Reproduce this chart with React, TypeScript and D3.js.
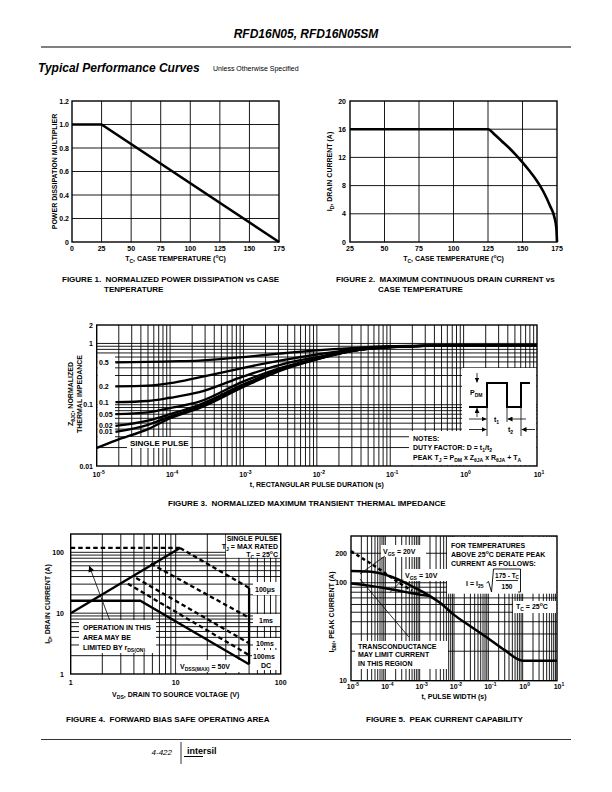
import React from 'react';
import * as d3 from 'd3';

const FONT = "'Liberation Sans', Arial, Helvetica, sans-serif";

/* ---------- Figure 1 : power dissipation multiplier ---------- */
const fig1Temp = [0, 25, 175];
const fig1Mult = [1.0, 1.0, 0.0];
const fig1XTicks = [0, 25, 50, 75, 100, 125, 150, 175];
const fig1YTicks = [0, 0.2, 0.4, 0.6, 0.8, 1.0, 1.2];
const fig1YLabels = ['0', '0.2', '0.4', '0.6', '0.8', '1.0', '1.2'];

/* ---------- Figure 2 : drain current vs case temperature ---------- */
const fig2Temp = [25, 125, 130, 135, 140, 145, 150, 155, 160, 165, 170, 173, 174.5, 175];
const fig2Current = [16, 16, 15.2, 14.3, 13.4, 12.4, 11.3, 10.1, 8.8, 7.2, 5.1, 3.6, 2.0, 0];
const fig2XTicks = [25, 50, 75, 100, 125, 150, 175];
const fig2YTicks = [0, 4, 8, 12, 16, 20];

/* ---------- Figure 3 : transient thermal impedance ---------- */
const fig3Time = [1e-5, 1.8e-5, 5e-5, 1e-4, 2.5e-4, 1e-3, 3e-3, 1e-2, 3e-2, 1e-1, 1, 10];
const fig3D05 = [null, 0.49, 0.5, 0.51, 0.525, 0.6, 0.68, 0.77, 0.84, 0.9, 0.93, 0.94];
const fig3D02 = [null, 0.2, 0.205, 0.225, 0.28, 0.4, 0.52, 0.66, 0.79, 0.89, 0.93, 0.94];
const fig3D01 = [null, 0.11, 0.115, 0.13, 0.16, 0.29, 0.44, 0.6, 0.77, 0.88, 0.93, 0.94];
const fig3D005 = [null, 0.07, 0.075, 0.088, 0.112, 0.24, 0.39, 0.57, 0.76, 0.875, 0.93, 0.94];
const fig3D002 = [null, 0.045, 0.055, 0.07, 0.1, 0.215, 0.37, 0.56, 0.755, 0.87, 0.93, 0.94];
const fig3D001 = [null, 0.036, 0.047, 0.064, 0.093, 0.205, 0.36, 0.555, 0.75, 0.87, 0.93, 0.94];
const fig3Single = [0.0197, 0.026, 0.04, 0.06, 0.088, 0.195, 0.35, 0.55, 0.75, 0.87, 0.93, 0.94];
const fig3DutyLabels = ['0.5', '0.2', '0.1', '0.05', '0.02', '0.01'];
const fig3XExp = [-5, -4, -3, -2, -1, 0, 1];
const fig3YTicks = [0.01, 0.1, 1, 2];
const fig3YLabels = ['0.01', '0.1', '1', '2'];

/* ---------- Figure 4 : forward bias SOA ---------- */
const soaRdsV = [1, 11];
const soaRdsI = [10, 118];
const soaLimitV = [1, 11];
const soaLimitI = [118, 118];
const soa100usV = [11, 50];
const soa100usI = [118, 26];
const soa1msV = [5.8, 50];
const soa1msI = [65, 8.4];
const soa10msV = [4.2, 50];
const soa10msI = [38, 3.2];
const soa100msV = [3.5, 50];
const soa100msI = [30.5, 2.05];
const soaDcV = [1, 4.6, 50];
const soaDcI = [16, 16, 1.45];
const soaVdssV = [50, 50];
const soaVdssI = [26, 1.45];
const fig4XTicks = [1, 10, 100];
const fig4YTicks = [1, 10, 100];

/* ---------- Figure 5 : peak current capability ---------- */
const pc20Time = [1e-5, 3e-5, 7e-5, 1.5e-4, 3e-4, 6e-4, 1.2e-3, 2e-3, 4e-3, 1e-2, 3e-2, 1e-1, 3e-1, 1, 10];
const pc20Current = [132, 130, 125, 115, 104, 92, 81, 73, 62, 47, 36, 27, 20.5, 16, 16];
const pc10Time = [1e-5, 3e-5, 1e-4, 3e-4, 6e-4, 1.2e-3, 2e-3];
const pc10Current = [98, 94, 88, 82, 78, 75, 73];
const pcDashTime = [1e-5, 2e-5, 4e-5, 7e-5, 1.5e-4, 3e-4, 6e-4];
const pcDashCurrent = [210, 180, 155, 136, 113, 96, 83];
const fig5XExp = [-5, -4, -3, -2, -1, 0, 1];
const fig5YTicks = [10, 100, 200];

/* ---------- helpers ---------- */
const logGrid = (lo: number, hi: number) => {
  const out: number[] = [];
  for (let d = Math.floor(Math.log10(lo)); d <= Math.ceil(Math.log10(hi)); d++) {
    for (let k = 1; k <= 9; k++) {
      const v = k * Math.pow(10, d);
      if (v > lo * 1.0001 && v < hi * 0.9999) out.push(v);
    }
  }
  return out;
};

const rich = (parts: any[], size: number) => {
  let cur = 0;
  return parts.map((p: any, i: number) => {
    const [t, k] = Array.isArray(p) ? p : [p, undefined];
    const target = k === 's' ? size * 0.3 : k === 'p' ? -size * 0.42 : 0;
    const dy = target - cur;
    cur = target;
    return (
      <tspan key={i} dy={dy} fontSize={k ? size * 0.72 : size}>
        {t}
      </tspan>
    );
  });
};

const Txt = ({ x, y, size = 7, anchor = 'start', rot = 0, weight = 'bold', italic = false, len, children }: any) => (
  <text
    transform={`translate(${x},${y})${rot ? ` rotate(${rot})` : ''}`}
    fontSize={size}
    textAnchor={anchor}
    fontWeight={weight}
    fontStyle={italic ? 'italic' : 'normal'}
    fontFamily={FONT}
    fill="#000"
    {...(len ? { textLength: len, lengthAdjust: 'spacingAndGlyphs' } : {})}
  >
    {children}
  </text>
);

const Grid = ({ x, y, xg, yg }: any) => {
  const [x0, x1] = x.range();
  const [yb, yt] = y.range();
  return (
    <g stroke="#000" strokeWidth={0.9}>
      {xg.map((v: number, i: number) => (
        <line key={'gx' + i} x1={x(v)} x2={x(v)} y1={yt} y2={yb} />
      ))}
      {yg.map((v: number, i: number) => (
        <line key={'gy' + i} x1={x0} x2={x1} y1={y(v)} y2={y(v)} />
      ))}
    </g>
  );
};

const Border = ({ x, y }: any) => {
  const [x0, x1] = x.range();
  const [yb, yt] = y.range();
  return <rect x={x0} y={yt} width={x1 - x0} height={yb - yt} fill="none" stroke="#000" strokeWidth={1.4} />;
};

const Box = ({ x, y, w, h }: any) => <rect x={x} y={y} width={w} height={h} fill="#fff" />;

const pathOf = (xs: number[], ys: (number | null)[], x: any, y: any, curve: any = d3.curveLinear) => {
  const pts = xs.map((v, i) => [v, ys[i]] as [number, number | null]);
  return (
    d3
      .line<[number, number | null]>()
      .defined((d) => d[1] != null)
      .x((d) => x(d[0]))
      .y((d) => y(d[1] as number))
      .curve(curve)(pts) || ''
  );
};

export default function App() {
  /* scales */
  const x1s = d3.scaleLinear([0, 175], [72, 279]);
  const y1s = d3.scaleLinear([0, 1.2], [242, 101]);
  const x2s = d3.scaleLinear([25, 175], [350, 557]);
  const y2s = d3.scaleLinear([0, 20], [242, 101]);
  const x3s = d3.scaleLog([1e-5, 10], [96.7, 537]);
  const y3s = d3.scaleLog([0.01, 2], [466, 325]);
  const x4s = d3.scaleLog([1, 100], [70.7, 280.7]);
  const y4s = d3.scaleLog([1, 200], [674, 534]);
  const x5s = d3.scaleLog([1e-5, 10], [351, 557]);
  const y5s = d3.scaleLog([10, 300], [680.7, 536]);

  const fig3Series = [fig3D05, fig3D02, fig3D01, fig3D005, fig3D002, fig3D001];

  return (
    <svg width={612} height={792} style={{ position: 'absolute', left: 0, top: 0, background: '#fff' }}>
      <defs>
        <marker id="ah" viewBox="0 0 10 10" refX="10" refY="5" markerWidth="5" markerHeight="5" markerUnits="userSpaceOnUse" orient="auto">
          <path d="M0,0 L10,5 L0,10 z" fill="#000" />
        </marker>
        <marker id="ahBig" viewBox="0 0 10 10" refX="10" refY="5" markerWidth="7" markerHeight="6" markerUnits="userSpaceOnUse" orient="auto">
          <path d="M0,0 L10,5 L0,10 z" fill="#000" />
        </marker>
      </defs>
      <rect x={0} y={0} width={612} height={792} fill="#fff" />

      {/* ---------- header ---------- */}
      <Txt x={306} y={37.5} size={12} anchor="middle" italic>
        RFD16N05, RFD16N05SM
      </Txt>
      <line x1={41} x2={571} y1={47} y2={47} stroke="#000" strokeWidth={1} />
      <Txt x={38} y={72} size={12} italic>
        Typical Performance Curves
      </Txt>
      <Txt x={213} y={71} size={7} weight="normal">
        Unless Otherwise Specified
      </Txt>

      {/* ---------- Figure 1 ---------- */}
      <Grid x={x1s} y={y1s} xg={fig1XTicks.slice(1, -1)} yg={fig1YTicks.slice(1, -1)} />
      <Border x={x1s} y={y1s} />
      <path d={pathOf(fig1Temp, fig1Mult, x1s, y1s)} fill="none" stroke="#000" strokeWidth={2.6} />
      {fig1YTicks.map((v, i) => (
        <Txt key={i} x={69} y={y1s(v) + 2.5} anchor="end">
          {fig1YLabels[i]}
        </Txt>
      ))}
      {fig1XTicks.map((v, i) => (
        <Txt key={i} x={x1s(v)} y={251} anchor="middle">
          {String(v)}
        </Txt>
      ))}
      <Txt x={175.5} y={261} anchor="middle">
        {rich(['T', ['C', 's'], ', CASE TEMPERATURE (', ['o', 'p'], 'C)'], 7)}
      </Txt>
      <Txt x={56.5} y={171.5} anchor="middle" rot={-90}>
        POWER DISSIPATION MULTIPLIER
      </Txt>
      <Txt x={62} y={282} size={8}>
        FIGURE 1.{'\u00A0\u00A0'}NORMALIZED POWER DISSIPATION vs CASE
      </Txt>
      <Txt x={104} y={292} size={8}>
        TENPERATURE
      </Txt>

      {/* ---------- Figure 2 ---------- */}
      <Grid x={x2s} y={y2s} xg={fig2XTicks.slice(1, -1)} yg={fig2YTicks.slice(1, -1)} />
      <Border x={x2s} y={y2s} />
      <path d={pathOf(fig2Temp, fig2Current, x2s, y2s, d3.curveMonotoneX)} fill="none" stroke="#000" strokeWidth={2.6} />
      {fig2YTicks.map((v, i) => (
        <Txt key={i} x={346} y={y2s(v) + 2.5} anchor="end">
          {String(v)}
        </Txt>
      ))}
      {fig2XTicks.map((v, i) => (
        <Txt key={i} x={x2s(v)} y={251} anchor="middle">
          {String(v)}
        </Txt>
      ))}
      <Txt x={453.5} y={261} anchor="middle">
        {rich(['T', ['C', 's'], ', CASE TEMPERATURE (', ['o', 'p'], 'C)'], 7)}
      </Txt>
      <Txt x={331.5} y={171.5} anchor="middle" rot={-90}>
        {rich(['I', ['D', 's'], ', DRAIN CURRENT (A)'], 7)}
      </Txt>
      <Txt x={336} y={282} size={8}>
        FIGURE 2.{'\u00A0\u00A0'}MAXIMUM CONTINUOUS DRAIN CURRENT vs
      </Txt>
      <Txt x={378} y={292} size={8}>
        CASE TEMPERATURE
      </Txt>

      {/* ---------- Figure 3 ---------- */}
      <Grid x={x3s} y={y3s} xg={logGrid(1e-5, 10)} yg={logGrid(0.01, 2)} />
      <Box x={97.4} y={355} w={17.6} h={85} />
      <Box x={127} y={437} w={63} h={11} />
      <Box x={462} y={368} w={74.3} h={63} />
      <Box x={409} y={431} w={127.3} h={34.3} />
      <Border x={x3s} y={y3s} />
      {fig3Series.map((s, i) => (
        <path key={i} d={pathOf(fig3Time, s, x3s, y3s, d3.curveMonotoneX)} fill="none" stroke="#000" strokeWidth={2.3} />
      ))}
      <path d={pathOf(fig3Time, fig3Single, x3s, y3s, d3.curveMonotoneX)} fill="none" stroke="#000" strokeWidth={2.3} />
      {fig3Series.map((s, i) => (
        <Txt key={i} x={99} y={y3s(s[1] as number) + 2.5}>
          {fig3DutyLabels[i]}
        </Txt>
      ))}
      <Txt x={130} y={446} size={8}>
        SINGLE PULSE
      </Txt>
      {fig3YTicks.map((v, i) => (
        <Txt key={i} x={93} y={y3s(v) + 2.5} anchor="end">
          {fig3YLabels[i]}
        </Txt>
      ))}
      {fig3XExp.map((e, i) => (
        <Txt key={i} x={x3s(Math.pow(10, e)) + 2} y={477} anchor="middle">
          {rich(['10', [String(e), 'p']], 7)}
        </Txt>
      ))}
      <Txt x={316.8} y={487} anchor="middle">
        t, RECTANGULAR PULSE DURATION (s)
      </Txt>
      <Txt x={73.2} y={394} anchor="middle" rot={-90}>
        {rich(['Z', ['θJC', 's'], ', NORMALIZED'], 7)}
      </Txt>
      <Txt x={81.8} y={394} anchor="middle" rot={-90}>
        THERMAL IMPEDANCE
      </Txt>
      {/* pulse diagram */}
      <path d="M469,407 H487 V383 H507 V407 H521 V383 H530" fill="none" stroke="#000" strokeWidth={2} />
      <g stroke="#000" strokeWidth={0.8}>
        <line x1={477} x2={477} y1={373} y2={382.5} markerEnd="url(#ah)" />
        <line x1={477} x2={477} y1={417} y2={408} markerEnd="url(#ah)" />
        <line x1={487} x2={487} y1={407} y2={436} />
        <line x1={507} x2={507} y1={407} y2={422} />
        <line x1={521} x2={521} y1={407} y2={436} />
        <line x1={469} x2={486.5} y1={419} y2={419} markerEnd="url(#ah)" />
        <line x1={526} x2={507.5} y1={419} y2={419} markerEnd="url(#ah)" />
        <line x1={469} x2={486.5} y1={429.5} y2={429.5} markerEnd="url(#ah)" />
        <line x1={535} x2={521.5} y1={429.5} y2={429.5} markerEnd="url(#ah)" />
      </g>
      <Txt x={470} y={395}>
        {rich(['P', ['DM', 's']], 7)}
      </Txt>
      <Txt x={494} y={422}>
        {rich(['t', ['1', 's']], 7)}
      </Txt>
      <Txt x={508} y={432}>
        {rich(['t', ['2', 's']], 7)}
      </Txt>
      <Txt x={413} y={440.5}>
        NOTES:
      </Txt>
      <Txt x={413} y={450}>
        {rich(['DUTY FACTOR: D = t', ['1', 's'], '/t', ['2', 's']], 7)}
      </Txt>
      <Txt x={413} y={459.5}>
        {rich(['PEAK T', ['J', 's'], ' = P', ['DM', 's'], ' x Z', ['θJA', 's'], ' x R', ['θJA', 's'], ' + T', ['A', 's']], 7)}
      </Txt>
      <Txt x={168} y={506} size={8}>
        FIGURE 3.{'\u00A0\u00A0'}NORMALIZED MAXIMUM TRANSIENT THERMAL IMPEDANCE
      </Txt>

      {/* ---------- Figure 4 ---------- */}
      <Grid x={x4s} y={y4s} xg={logGrid(1, 100)} yg={logGrid(1, 101)} />
      <Box x={226} y={534.7} w={54} h={23} />
      <Box x={79} y={620} w={77} h={33} />
      <Box x={253} y={582} w={27} h={13} />
      <Box x={253} y={614} w={27} h={12} />
      <Box x={253} y={638} w={27} h={10} />
      <Box x={252} y={650} w={28} h={11} />
      <Box x={253} y={661} w={27} h={9} />
      <Box x={176} y={660} w={68} h={12} />
      <Border x={x4s} y={y4s} />
      <g fill="none" stroke="#000" strokeWidth={2.3}>
        <path d={pathOf(soaRdsV, soaRdsI, x4s, y4s)} />
        <path d={pathOf(soaDcV, soaDcI, x4s, y4s)} />
        <path d={pathOf(soaVdssV, soaVdssI, x4s, y4s)} />
        <g strokeDasharray="4.5 3">
          <path d={pathOf(soaLimitV, soaLimitI, x4s, y4s)} />
          <path d={pathOf(soa100usV, soa100usI, x4s, y4s)} />
          <path d={pathOf(soa1msV, soa1msI, x4s, y4s)} />
          <path d={pathOf(soa10msV, soa10msI, x4s, y4s)} />
          <path d={pathOf(soa100msV, soa100msI, x4s, y4s)} />
        </g>
      </g>
      <line x1={x4s(2.35)} y1={y4s(7.7)} x2={x4s(1.5)} y2={y4s(60)} stroke="#000" strokeWidth={0.8} markerEnd="url(#ahBig)" />
      <Txt x={278} y={540.5} anchor="end">SINGLE PULSE</Txt>
      <Txt x={278} y={548.5} anchor="end">
        {rich(['T', ['J', 's'], ' = MAX RATED'], 7)}
      </Txt>
      <Txt x={278} y={556.5} anchor="end">
        {rich(['T', ['C', 's'], ' = 25', ['o', 'p'], 'C'], 7)}
      </Txt>
      <Txt x={255} y={592}>100μs</Txt>
      <Txt x={259} y={623}>1ms</Txt>
      <Txt x={256} y={646}>10ms</Txt>
      <Txt x={253} y={658.5}>100ms</Txt>
      <Txt x={261} y={668}>DC</Txt>
      <Txt x={180} y={668.5}>
        {rich(['V', ['DSS(MAX)', 's'], ' = 50V'], 7)}
      </Txt>
      <Txt x={83} y={630}>OPERATION IN THIS</Txt>
      <Txt x={83} y={640}>AREA MAY BE</Txt>
      <Txt x={83} y={650}>
        {rich(['LIMITED BY r', ['DS(ON)', 's']], 7)}
      </Txt>
      {fig4YTicks.map((v, i) => (
        <Txt key={i} x={64} y={y4s(v) + 2.5} anchor="end">
          {String(v)}
        </Txt>
      ))}
      {fig4XTicks.map((v, i) => (
        <Txt key={i} x={x4s(v)} y={684.5} anchor="middle">
          {String(v)}
        </Txt>
      ))}
      <Txt x={175.7} y={697} anchor="middle">
        {rich(['V', ['DS', 's'], ', DRAIN TO SOURCE VOLTAGE (V)'], 7)}
      </Txt>
      <Txt x={50} y={604} anchor="middle" rot={-90}>
        {rich(['I', ['D', 's'], ', DRAIN CURRENT (A)'], 7)}
      </Txt>
      <Txt x={66} y={722} size={8}>
        FIGURE 4.{'\u00A0\u00A0'}FORWARD BIAS SAFE OPERATING AREA
      </Txt>

      {/* ---------- Figure 5 ---------- */}
      <Grid x={x5s} y={y5s} xg={logGrid(1e-5, 10)} yg={logGrid(10, 300)} />
      <Box x={381} y={545} w={45} h={12} />
      <Box x={403} y={569} w={46} h={12} />
      <Box x={447} y={536.7} w={109.6} h={57} />
      <Box x={513} y={601} w={43.6} h={12} />
      <Box x={355} y={641} w={93} h={28} />
      <Border x={x5s} y={y5s} />
      <g fill="none" stroke="#000" strokeWidth={2.5}>
        <path d={pathOf(pc20Time, pc20Current, x5s, y5s, d3.curveMonotoneX)} />
        <path d={pathOf(pc10Time, pc10Current, x5s, y5s, d3.curveMonotoneX)} />
        <path d={pathOf(pcDashTime, pcDashCurrent, x5s, y5s, d3.curveMonotoneX)} strokeDasharray="3.5 3" />
      </g>
      <g stroke="#000" strokeWidth={0.8}>
        <line x1={x5s(9.7e-5)} y1={y5s(187)} x2={x5s(1.83e-5)} y2={y5s(123)} />
        <line x1={x5s(3.25e-4)} y1={y5s(108)} x2={x5s(1.36e-4)} y2={y5s(79.5)} />
        <line x1={x5s(1.83e-5)} y1={y5s(109)} x2={x5s(4.85e-4)} y2={y5s(27.9)} />
      </g>
      <Txt x={383} y={553.5}>
        {rich(['V', ['GS', 's'], ' = 20V'], 7)}
      </Txt>
      <Txt x={405} y={577.5}>
        {rich(['V', ['GS', 's'], ' = 10V'], 7)}
      </Txt>
      <Txt x={451} y={547.5}>FOR TEMPERATURES</Txt>
      <Txt x={451} y={556.5}>
        {rich(['ABOVE 25', ['o', 'p'], 'C DERATE PEAK'], 7)}
      </Txt>
      <Txt x={451} y={565.5}>CURRENT AS FOLLOWS:</Txt>
      <Txt x={466} y={586}>
        {rich(['I = I', ['25', 's']], 7)}
      </Txt>
      <path d="M486.5,583 L488.5,581.5 L491.5,592 L493.5,569 H520.5 V592 H518" fill="none" stroke="#000" strokeWidth={0.9} />
      <Txt x={507} y={577.5} size={6.5} anchor="middle">
        {rich(['175 - T', ['C', 's']], 6.5)}
      </Txt>
      <line x1={496} x2={518} y1={580.5} y2={580.5} stroke="#000" strokeWidth={0.8} />
      <Txt x={507} y={588.5} size={6.5} anchor="middle">150</Txt>
      <Txt x={516} y={609}>
        {rich(['T', ['C', 's'], ' = 25', ['o', 'p'], 'C'], 7)}
      </Txt>
      <Txt x={358} y={648.5}>TRANSCONDUCTANCE</Txt>
      <Txt x={358} y={657}>MAY LIMIT CURRENT</Txt>
      <Txt x={358} y={665.5}>IN THIS REGION</Txt>
      {fig5YTicks.map((v, i) => (
        <Txt key={i} x={347} y={y5s(v) + 2.5} anchor="end">
          {String(v)}
        </Txt>
      ))}
      {fig5XExp.map((e, i) => (
        <Txt key={i} x={x5s(Math.pow(10, e)) + 2} y={689} anchor="middle">
          {rich(['10', [String(e), 'p']], 7)}
        </Txt>
      ))}
      <Txt x={454} y={698.5} anchor="middle">
        t, PULSE WIDTH (s)
      </Txt>
      <Txt x={333.5} y={612} anchor="middle" rot={-90}>
        {rich(['I', ['DM', 's'], ', PEAK CURRENT (A)'], 7)}
      </Txt>
      <Txt x={366} y={722} size={8}>
        FIGURE 5.{'\u00A0\u00A0'}PEAK CURRENT CAPABILITY
      </Txt>

      {/* ---------- footer ---------- */}
      <line x1={41} x2={571} y1={739.5} y2={739.5} stroke="#000" strokeWidth={0.8} />
      <Txt x={172} y={755} size={8} weight="normal" anchor="end" italic>
        4-422
      </Txt>
      <line x1={181} x2={181} y1={742} y2={764} stroke="#000" strokeWidth={0.8} />
      <Txt x={187} y={754} size={9}>
        intersil
      </Txt>
      <line x1={184} x2={203} y1={756.5} y2={756.5} stroke="#000" strokeWidth={1} />
    </svg>
  );
}
